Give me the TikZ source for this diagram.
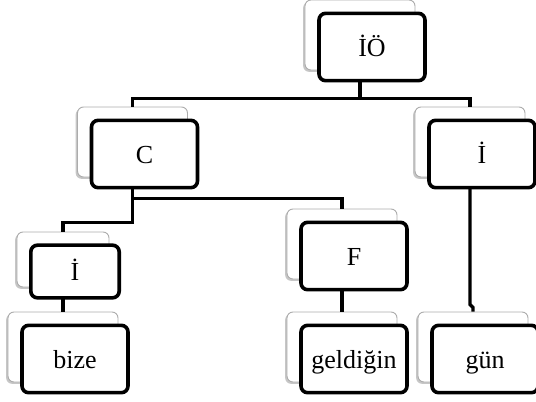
\documentclass[tikz,border=0pt]{standalone}
\usepackage{fontspec}
\setmainfont{Liberation Serif}
\usetikzlibrary{shadows}

\begin{document}
\begin{tikzpicture}[
x=0.75pt, y=-0.75pt,
    BK/.style = {draw=gray!65, line width=0.7pt, fill=white,
                 rounded corners=4.5pt, inner sep=0pt,
                 minimum width=82.5pt, minimum height=52.5pt,
                 drop shadow={shadow xshift=-1.4pt, shadow yshift=-1.4pt,
                              fill=gray, opacity=0.45}
                  },
    FR/.style = {draw, line width=2.7pt, fill=white,
                 rounded corners=5pt, inner sep=0pt,
                 minimum width=79.5pt, minimum height=50.5pt,
                 text height=13.5pt, text depth=0pt,
                 font=\fontsize{19.5}{23}\selectfont},
    SM/.style = {minimum width=#1, minimum height=39.5pt},
    LK/.style = {line width=2.5pt},
                        ]
\path[use as bounding box] (0,0) rectangle (536,401);
\clip (0,0) rectangle (536,401);
% back boxes
\node[BK]          (ioB)   at (360,35)    {};
\node[BK]          (cB)    at (132.5,142) {};
\node[BK]          (irB)   at (470,142)   {};
\node[BK,SM=69pt,minimum height=41.25pt]
                   (ilB)   at (63,259.5)  {};
\node[BK]          (fB)    at (342,244)   {};
\node[BK]          (bizeB) at (63,347)    {};
\node[BK]          (gelB)  at (342,347)   {};
\node[BK]          (gunB)  at (473,347)   {};
% connectors
\draw[LK]   (ioB.south) -- ++(0,28) -| (cB.north);
\draw[LK]   (ioB.south) -- ++(0,28) -| (irB.north);
\draw[LK]   (cB.south)  -- ++(0,45) -| (ilB.north);
\draw[LK]   (cB.south)  -- ++(0,21) -| (fB.north);
\draw[LK]   (ilB.south) -- (bizeB.north);
\draw[LK]   (fB.south)  -- (gelB.north);
\draw[LK]   (irB.south) -- ++(0,127) -- ++(3,3) -- (gunB.north);
% front boxes
\node[FR]          (io)   at ([shift={(12,12)}]ioB)   {İÖ};
\node[FR]          (c)    at ([shift={(12,12)}]cB)    {C};
\node[FR]          (ir)   at ([shift={(12,12)}]irB)   {İ};
\node[FR,SM=66.3pt]
                   (il)   at ([shift={(12,12)}]ilB)   {İ};
\node[FR]          (f)    at ([shift={(12,12)}]fB)    {F};
\node[FR]          (bize) at ([shift={(12,12)}]bizeB) {bize};
\node[FR]          (gel)  at ([shift={(12,12)}]gelB)  {geldiğin};
\node[FR]          (gun)  at ([shift={(12,12)}]gunB)  {gün};
\end{tikzpicture}
\end{document}
